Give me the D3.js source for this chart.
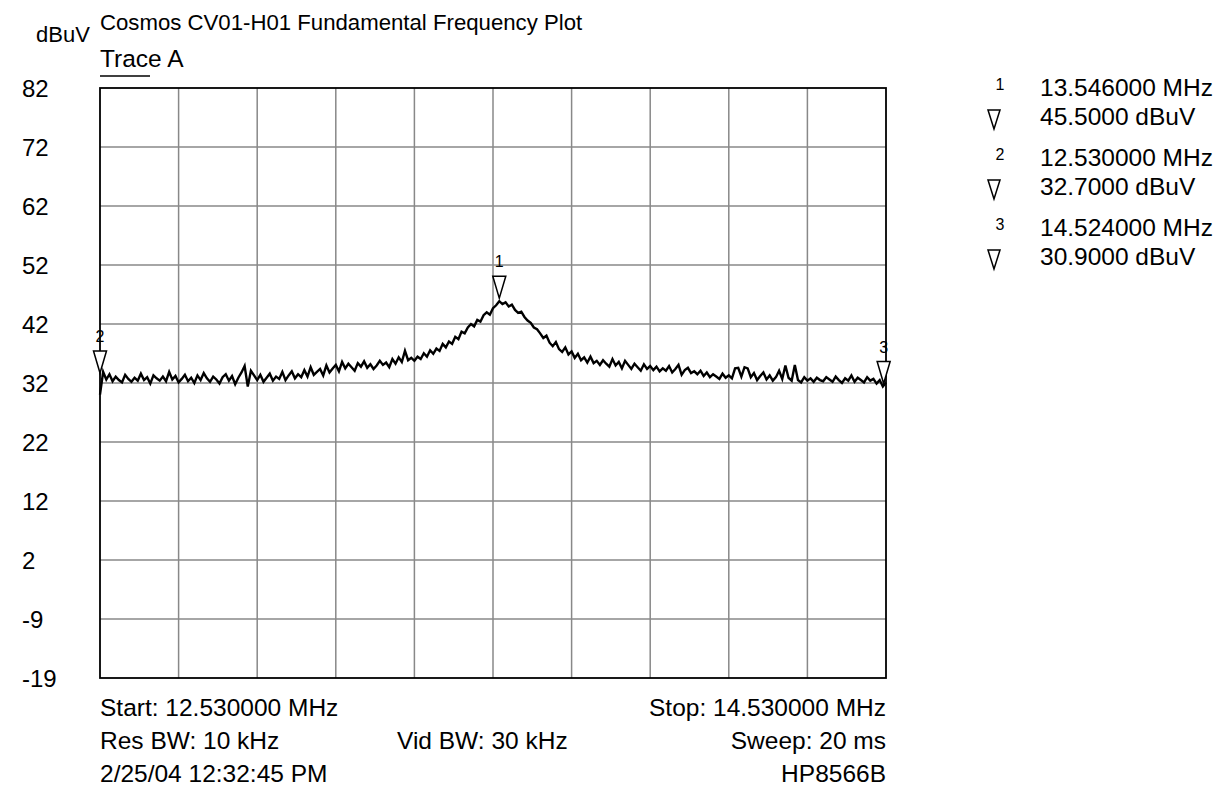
<!DOCTYPE html>
<html>
<head>
<meta charset="utf-8">
<script src="https://cdn.jsdelivr.net/npm/d3@7"></script>
<style>
  body { margin: 0; background: #fff; }
  text { font-family: "Liberation Sans", Arial, sans-serif; fill: #000; }
</style>
</head>
<body>
<div id="chart"></div>
<script>
// analyzer sweep settings
var startMHz = 12.53;
var stopMHz = 14.53;
var stepMHz = 0.008;

// y axis labels, one per grid line from bottom to top
var yTickLabels = ["-19", "-9", "2", "12", "22", "32", "42", "52", "62", "72", "82"];
var yMin = -19, yMax = 82;

// trace A, dBuV (one value every 8 kHz)
var traceA = [
  29.5, 33.4, 32.1, 33.0, 31.8, 32.6, 32.0, 31.6, 32.9, 32.2,
  31.7, 32.4, 31.9, 33.1, 32.0, 32.5, 31.4, 32.8, 32.3, 31.9,
  32.6, 31.8, 33.4, 32.1, 32.7, 31.6, 32.2, 32.9, 31.8, 32.4,
  31.5, 32.8, 32.0, 33.2, 32.3, 31.7, 32.6, 32.1, 31.4, 32.5,
  33.0, 31.9, 32.7, 31.3, 32.4, 33.3, 34.4, 30.9, 33.6, 32.8,
  32.0, 32.9, 31.7, 32.4, 33.1, 31.9, 32.6, 32.2, 33.4, 32.0,
  32.8, 33.5, 32.3, 33.0, 32.5, 33.7, 32.6, 34.2, 32.9, 33.4,
  33.9, 32.8, 34.5, 33.3, 34.0, 34.6, 33.5, 35.1, 34.0, 34.8,
  34.2, 33.6, 34.9, 34.3, 35.2, 34.1, 34.7, 33.9, 34.5, 35.3,
  34.6, 35.0, 34.2, 35.6, 34.8, 35.9, 35.1, 37.0, 35.4, 35.8,
  35.3, 36.0, 35.6, 36.6, 36.0, 37.1, 36.5, 37.4, 37.0, 38.2,
  37.6, 38.6, 38.2, 39.4, 39.0, 40.3, 40.0, 41.0, 41.6, 41.2,
  42.3, 42.0, 43.1, 43.6, 43.2, 44.3, 44.8, 45.5, 45.0, 45.3,
  44.6, 44.9, 44.0, 43.5, 43.7, 42.8, 42.2, 41.8, 41.0, 40.7,
  40.0, 39.2, 39.6, 38.4, 37.8, 38.5, 37.3, 36.8, 37.6, 36.4,
  36.9, 35.8, 36.5, 35.4, 35.9, 35.0, 36.0, 34.9, 35.3, 34.6,
  35.4, 34.8, 34.3, 35.6, 34.5, 35.1, 34.0, 35.3, 34.6, 33.9,
  34.8, 34.2, 33.6, 34.7, 33.9, 34.4, 33.7, 34.3, 33.5, 34.0,
  33.6, 34.4, 33.3, 33.9, 34.6, 32.9, 33.7, 34.1, 33.2, 33.5,
  33.0, 33.6, 32.7, 33.3, 32.5, 33.0, 32.6, 32.2, 33.1, 32.4,
  32.8, 32.3, 34.0, 34.1, 32.6, 34.2, 34.0, 32.5, 33.2, 32.0,
  32.7, 33.3, 32.1, 32.8, 31.9, 32.5, 33.6, 32.2, 34.5, 32.4,
  31.9, 34.6, 32.0, 31.6, 32.5, 31.9, 32.3, 31.7, 32.4, 32.0,
  31.8, 32.5, 32.1, 31.7, 32.6, 32.0, 31.5, 32.3, 31.9, 32.8,
  31.7, 32.4, 32.0, 31.6, 32.5, 31.9, 32.2, 31.4, 32.0, 30.9, 31.6
];

// markers
var markerIds = [1, 2, 3];
var markerFreqs = [13.546, 12.53, 14.524];
var markerLevels = [45.5, 32.7, 30.9];
var markerFreqText = ["13.546000 MHz", "12.530000 MHz", "14.524000 MHz"];
var markerLevelText = ["45.5000 dBuV", "32.7000 dBuV", "30.9000 dBuV"];

var svgWidth = 1217;
var svgHeight = 787;
var margin = { top: 88, left: 100, right: 331, bottom: 109 };
var width = svgWidth - margin.left - margin.right;
var height = svgHeight - margin.top - margin.bottom;

var svg = d3.select("#chart")
    .append("svg")
    .attr("width", svgWidth)
    .attr("height", svgHeight);

var plot = svg.append("g")
    .attr("transform", `translate(${margin.left}, ${margin.top})`);

var xScale = d3.scaleLinear().domain([startMHz, stopMHz]).range([0, width]);
var yScale = d3.scaleLinear().domain([yMin, yMax]).range([height, 0]);
// grid divisions (10 x 10)
var xDiv = d3.scaleLinear().domain([0, 10]).range([0, width]);
var yDiv = d3.scaleLinear().domain([0, 10]).range([height, 0]);

// grid
plot.append("g").selectAll("line")
    .data(d3.range(1, 10))
    .enter().append("line")
    .attr("x1", d => xDiv(d)).attr("x2", d => xDiv(d))
    .attr("y1", 0).attr("y2", height)
    .attr("stroke", "#888").attr("stroke-width", 1.5);
plot.append("g").selectAll("line")
    .data(d3.range(1, 10))
    .enter().append("line")
    .attr("y1", d => yDiv(d)).attr("y2", d => yDiv(d))
    .attr("x1", 0).attr("x2", width)
    .attr("stroke", "#888").attr("stroke-width", 1.5);

// y labels
svg.append("g").selectAll("text")
    .data(yTickLabels)
    .enter().append("text")
    .attr("x", 22)
    .attr("y", (d, i) => margin.top + yDiv(i) + 9)
    .style("font-size", "24px")
    .text(d => d);

// trace
var points = traceA.map((v, i) => ({ f: startMHz + i * stepMHz, v: v }));
var line = d3.line().x(d => xScale(d.f)).y(d => yScale(d.v));
plot.append("path")
    .datum(points)
    .attr("d", line)
    .attr("fill", "none")
    .attr("stroke", "#000")
    .attr("stroke-width", 2.4)
    .attr("stroke-linejoin", "miter");

// border on top of trace
plot.append("rect")
    .attr("width", width).attr("height", height)
    .attr("fill", "none").attr("stroke", "#000").attr("stroke-width", 1.8);

// marker triangles on the trace
var tri = "M-6.5,-22 L6.5,-22 L0,0 Z";
var markers = plot.selectAll(".marker")
    .data(markerIds)
    .enter().append("g")
    .attr("transform", (d, i) => `translate(${xScale(markerFreqs[i])}, ${yScale(markerLevels[i]) - 3})`);
markers.append("path")
    .attr("d", tri)
    .attr("fill", "#fff").attr("stroke", "#000").attr("stroke-width", 1.5);
markers.append("text")
    .attr("y", -31)
    .attr("text-anchor", "middle")
    .style("font-size", "16px")
    .text(d => d);

// header texts
svg.append("text").attr("x", 100).attr("y", 30).style("font-size", "22.2px")
    .text("Cosmos CV01-H01 Fundamental Frequency Plot");
svg.append("text").attr("x", 100).attr("y", 67).style("font-size", "24.5px")
    .text("Trace A");
svg.append("line").attr("x1", 100).attr("x2", 150).attr("y1", 76).attr("y2", 76)
    .attr("stroke", "#000").attr("stroke-width", 1.5);
svg.append("text").attr("x", 36).attr("y", 42).style("font-size", "22px")
    .text("dBuV");

// footer texts
var right = margin.left + width;
var footer = [
  { t: "Start: 12.530000 MHz", x: 100, y: 716, a: "start" },
  { t: "Stop: 14.530000 MHz", x: right, y: 716, a: "end" },
  { t: "Res BW: 10 kHz", x: 100, y: 749, a: "start" },
  { t: "Vid BW: 30 kHz", x: 397, y: 749, a: "start" },
  { t: "Sweep: 20 ms", x: right, y: 749, a: "end" },
  { t: "2/25/04 12:32:45 PM", x: 100, y: 782, a: "start" },
  { t: "HP8566B", x: right, y: 782, a: "end" }
];
svg.append("g").selectAll("text")
    .data(footer)
    .enter().append("text")
    .attr("x", d => d.x).attr("y", d => d.y)
    .attr("text-anchor", d => d.a)
    .style("font-size", "24.5px")
    .text(d => d.t);

// marker readout on the right
var readout = svg.append("g").selectAll("g")
    .data(markerIds)
    .enter().append("g")
    .attr("transform", (d, i) => `translate(0, ${i * 70})`);
readout.append("text")
    .attr("x", 1000).attr("y", 90)
    .attr("text-anchor", "middle")
    .style("font-size", "16px")
    .text(d => d);
readout.append("path")
    .attr("d", "M988,110 L1000,110 L994,129 Z")
    .attr("fill", "none").attr("stroke", "#000").attr("stroke-width", 1.5);
readout.append("text")
    .attr("x", 1040).attr("y", 96)
    .style("font-size", "24.5px")
    .text((d, i) => markerFreqText[i]);
readout.append("text")
    .attr("x", 1040).attr("y", 125)
    .style("font-size", "24.5px")
    .text((d, i) => markerLevelText[i]);
</script>
</body>
</html>
